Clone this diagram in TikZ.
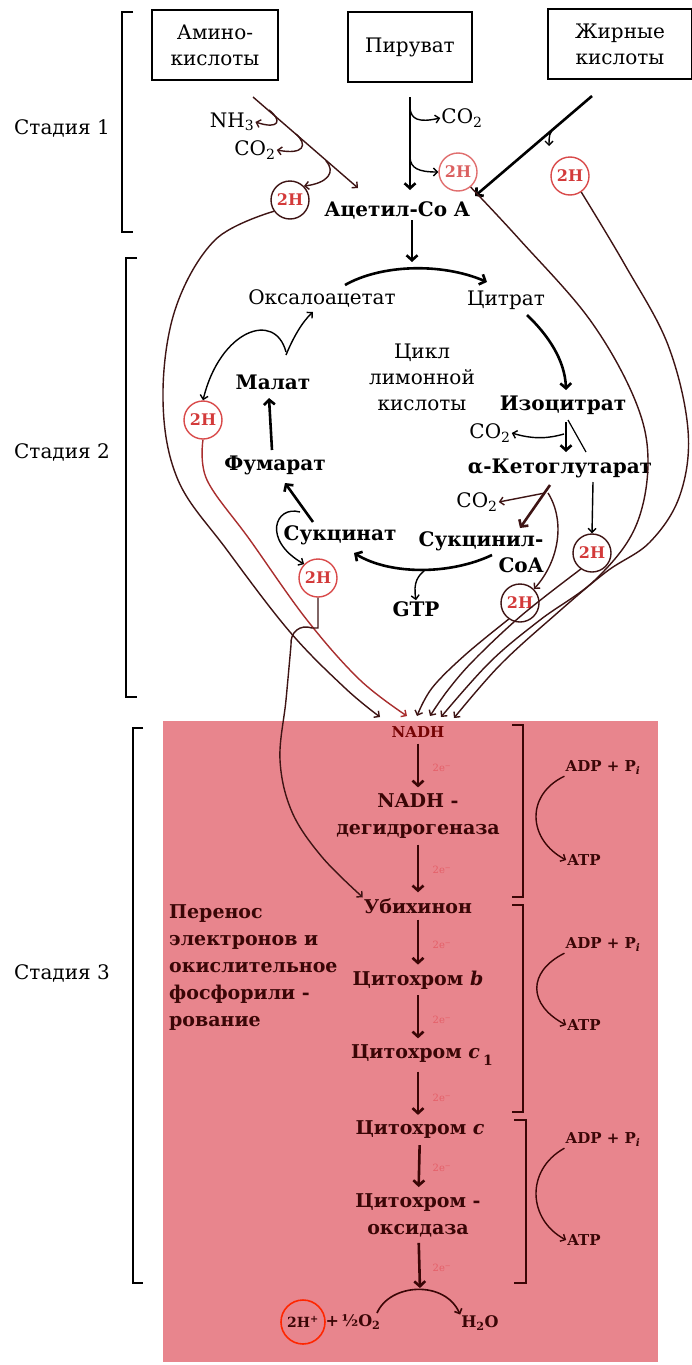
\documentclass[tikz,border=0pt]{standalone}
\usepackage{fontspec}
\setmainfont{DejaVu Serif}
\usetikzlibrary{arrows.meta}
\definecolor{dkm}{HTML}{3E1414}
\definecolor{redH}{HTML}{D33A3A}
\definecolor{redC}{HTML}{D94A4A}
\definecolor{pinkbg}{HTML}{E8858D}
\definecolor{sthree}{HTML}{3A0606}
\definecolor{twoe}{HTML}{E0303A}
\begin{document}
\begin{tikzpicture}[x=1pt,y=-1pt,
  tx/.style={font=\fontsize{20}{26}\selectfont, inner sep=1pt, align=center},
  txb/.style={font=\fontsize{20}{26}\selectfont\bfseries, inner sep=1pt, align=center},
  bx/.style={tx, draw, line width=1.2pt, minimum height=70pt},
  hh/.style={circle, draw=#1, line width=1.4pt, minimum size=38pt, inner sep=0pt, text=redH, font=\fontsize{16}{16}\selectfont\bfseries},
  thk/.style={line width=2.6pt, -{Straight Barb[length=5pt,width=11pt]}},
  thn/.style={line width=1.4pt, -{Straight Barb[length=4pt,width=8pt]}},
  brk/.style={line width=1.3pt},
  sfont/.style={font=\fontsize{19}{27}\selectfont\bfseries, text=sthree, inner sep=1pt, align=center},
  sarr/.style={line width=2.6pt, draw=sthree, -{Straight Barb[length=5pt,width=11pt]}, shorten <=5pt, shorten >=5pt},
  twoelbl/.style={font=\fontsize{10}{10}\selectfont, text=twoe, opacity=0.45},
  adp/.style={font=\fontsize{15}{16}\selectfont\bfseries, text=sthree, inner sep=1pt}
]
\useasboundingbox (0,0) rectangle (692,1365);
\fill[white] (0,0) rectangle (692,1365);
\fill[pinkbg] (163,721) rectangle (658,1362);

% ---------- stage labels and brackets
\node[tx] (st1) at (62,128) {Стадия 1};
\node[tx] (st2) at (62,452) {Стадия 2};
\node[tx] (st3) at (62,973) {Стадия 3};
\draw[brk] (133,12) -- (122,12) -- (122,232) -- (133,232);
\draw[brk] (137,258) -- (126,258) -- (126,697) -- (137,697);
\draw[brk] (143,728) -- (133,728) -- (133,1283) -- (143,1283);

% ---------- stage 1
\node[bx, minimum width=126pt] (amino) at (215,45) {Амино-\\кислоты};
\node[bx, minimum width=124pt] (pyr) at (410,47) {Пируват};
\node[bx, minimum width=144pt] (fatty) at (620,44) {Жирные\\кислоты};

\node[tx] (nh3) at (232,122) {NH\textsubscript{3}};
\node[tx] (co2a) at (255,150) {CO\textsubscript{2}};
\node[hh=dkm] (h1) at (290,200) {2H};
\node[txb] (acoa) at (397,210) {Ацетил-Co A};
\node[tx] (co2b) at (462,118) {CO\textsubscript{2}};
\node[hh=redC, opacity=0.8] (hpyr) at (458,172) {2H};
\node[hh=redC] (hfat) at (570,176) {2H};

\coordinate (aS) at (253,97);
\coordinate (aE) at (358,188);
\draw[thn,dkm] (aS) -- (aE);
\draw[thn,dkm] (269,110) .. controls (282,120) and (280,130) .. (nh3.east);
\draw[thn,dkm] (296,134) .. controls (308,145) and (304,155) .. (co2a.east);
\draw[thn,dkm] (326,161) .. controls (336,172) and (328,183) .. (h1.north east);

\coordinate (pS) at (410,97);
\coordinate (pE) at (410,190);
\draw[thk] (pS) -- (pE);
\draw[thn] (410,108) .. controls (411,119) and (418,123) .. (co2b.west);
\draw[thn] (410,158) .. controls (411,168) and (418,172) .. (hpyr.west);

\coordinate (fS) at (592,96);
\coordinate (fE) at (475,196);
\draw[thk] (fS) -- (fE);
\draw[thn] (556,127) .. controls (549,131) and (549,137) .. (549,146);

% ---------- stage 2 : citric acid cycle
\node[tx] (oxa) at (322,298) {Оксалоацетат};
\node[tx] (cit) at (506,300) {Цитрат};
\node[tx] (cyc) at (422,377) {Цикл\\лимонной\\кислоты};
\node[txb] (iso) at (563,405) {Изоцитрат};
\node[tx] (co2c) at (490,433) {CO\textsubscript{2}};
\node[txb] (akg) at (560,468) {α-Кетоглутарат};
\node[tx] (co2d) at (477,502) {CO\textsubscript{2}};
\node[txb, align=right] (scoa) at (481,552) {Сукцинил-\\CoA};
\node[txb] (gtp) at (416,609) {GTP};
\node[txb] (suc) at (340,535) {Сукцинат};
\node[txb] (fum) at (275,465) {Фумарат};
\node[txb] (mal) at (273,382) {Малат};
\node[hh=redC] (hmal) at (203,420) {2H};
\node[hh=redC] (hsuc) at (318,578) {2H};
\node[hh=dkm] (hR) at (592,553) {2H};
\node[hh=dkm] (hL) at (520,603) {2H};

\draw[thk] (acoa.south -| 412,0) -- (412,262);
\draw[thk] (345,285) .. controls (380,265) and (440,262) .. (487,282);
\draw[thk] (527,315) .. controls (548,335) and (565,360) .. (566,390);
\draw[thk] (566,422) -- (566,452);
\draw[line width=1.2pt] (568,420) -- (586,452);
\draw[thn] (564,434) .. controls (550,438) and (535,440) .. (co2c.east);
\draw[thn] (593,482) -- (hR.north);
\draw[thk,dkm] (550,485) -- (520,528);
\draw[thn,dkm] (545,493) -- (co2d.east);
\draw[thn,dkm] (548,493) .. controls (565,520) and (560,560) .. (hL.north east);
\draw[thk] (492,555) .. controls (450,575) and (390,575) .. (354,553);
\draw[thn] (425,570) .. controls (418,576) and (413,582) .. (gtp.north);
\draw[thk] (313,522) -- (285,483);
\draw[thn] (300,512) .. controls (275,505) and (262,540) .. (hsuc.north west);
\draw[thk] (272,450) -- (269,398);
\draw[thn] (286,355) .. controls (293,338) and (302,322) .. (313,312);
\draw[thn] (286,352) .. controls (275,310) and (220,330) .. (hmal.north);

% ---------- connectors to NADH
\coordinate (t1) at (380,717);
\coordinate (t2) at (407,716);
\coordinate (t3) at (417,716);
\coordinate (t4) at (430,716);
\coordinate (t5) at (441,717);
\coordinate (t6) at (454,718);
\draw[thn,dkm] plot[smooth,tension=0.6] coordinates {(h1.215) (215,240) (175,310) (163,400) (178,480) (227,550) (290,632) (345,688) (t1)};
\draw[thn,draw=redH!80!black] plot[smooth,tension=0.6] coordinates {(hmal.south) (207,480) (250,540) (307,620) (360,680) (t2)};
\draw[thn,dkm] plot[smooth,tension=0.6] coordinates {(hL.235) (465,655) (432,688) (t3)};
\draw[thn,dkm] plot[smooth,tension=0.6] coordinates {(hR.235) (522,615) (474,660) (448,690) (t4)};
\draw[thn,dkm] plot[smooth,tension=0.6] coordinates {(hpyr.-50) (520,240) (590,320) (635,400) (648,462) (635,528) (595,580) (540,620) (490,662) (t5)};
\draw[thn,dkm] plot[smooth,tension=0.6] coordinates {(hfat.-55) (625,265) (668,345) (688,430) (680,495) (650,542) (606,572) (555,615) (500,665) (t6)};

% ---------- stage 3
\node[sfont, font=\fontsize{15}{16}\selectfont\bfseries, text=sthree!70!red] (nadh) at (418,732) {NADH};
\node[sfont] (ndh) at (418,816) {NADH -\\дегидрогеназа};
\node[sfont] (ubi) at (418,906) {Убихинон};
\node[sfont] (cytb) at (418,980) {Цитохром \textit{b}};
\node[sfont] (cytcone) at (422,1055) {Цитохром \textit{c}\,\raisebox{-7pt}{\fontsize{14}{14}\selectfont 1}};
\node[sfont] (cytc) at (420,1130) {Цитохром \textit{c}};
\node[sfont] (cox) at (418,1215) {Цитохром -\\оксидаза};
\node[sfont, align=left, anchor=north west] (etr) at (168,903) {Перенос\\электронов и\\окислительное\\фосфорили -\\рование};

\draw[sarr] (nadh) -- (ndh);
\draw[sarr] (ndh) -- (ubi);
\draw[sarr] (ubi) -- (cytb);
\draw[sarr] (cytb) -- (cytcone.north -| cytb.south);
\draw[sarr] (cytcone.south -| cytb.south) -- (cytc.north -| cytb.south);
\draw[sarr] (cytc) -- (cox);
\coordinate (arcTop) at (420,1290);
\draw[sarr, shorten >=2pt] (cox) -- (arcTop);

\node[twoelbl] (e1) at (442,768) {2e\textsuperscript{−}};
\node[twoelbl] (e2) at (442,870) {2e\textsuperscript{−}};
\node[twoelbl] (e3) at (442,945) {2e\textsuperscript{−}};
\node[twoelbl] (e4) at (442,1020) {2e\textsuperscript{−}};
\node[twoelbl] (e5) at (442,1098) {2e\textsuperscript{−}};
\node[twoelbl] (e6) at (442,1168) {2e\textsuperscript{−}};
\node[twoelbl] (e7) at (442,1268) {2e\textsuperscript{−}};

\node[circle, draw=red!70!orange, line width=1.6pt, minimum size=44pt, inner sep=0pt, font=\fontsize{14}{14}\selectfont\bfseries, text=sthree] (hp) at (303,1322) {2H\textsuperscript{+}};
\node[adp, font=\fontsize{16}{16}\selectfont\bfseries] (o2) at (353,1322) {+\,½O\textsubscript{2}};
\node[adp, font=\fontsize{16}{16}\selectfont\bfseries] (h2o) at (480,1323) {H\textsubscript{2}O};
\draw[line width=1.6pt, sthree, -{Straight Barb[length=4pt,width=8pt]}] (377,1313) .. controls (390,1283) and (445,1280) .. (h2o.north west);

% brackets and ATP
\draw[brk, sthree] (512,725) -- (523,725) -- (523,897) -- (512,897);
\draw[brk, sthree] (512,905) -- (523,905) -- (523,1112) -- (512,1112);
\draw[brk, sthree] (514,1120) -- (526,1120) -- (526,1283) -- (514,1283);

\node[adp] (adp1) at (603,768) {ADP + P\textsubscript{\textit{i}}};
\node[adp] (atp1) at (584,860) {ATP};
\node[adp] (adp2) at (603,945) {ADP + P\textsubscript{\textit{i}}};
\node[adp] (atp2) at (584,1025) {ATP};
\node[adp] (adp3) at (603,1140) {ADP + P\textsubscript{\textit{i}}};
\node[adp] (atp3) at (584,1240) {ATP};
\draw[thn, sthree] (adp1.south west) .. controls (525,795) and (528,840) .. (atp1.west);
\draw[thn, sthree] (adp2.south west) .. controls (527,972) and (528,1005) .. (atp2.west);
\draw[thn, sthree] (adp3.south west) .. controls (525,1170) and (528,1220) .. (atp3.west);

% succinate 2H to ubiquinone with bridge
\draw[thn,dkm] (hsuc.south) -- (318,628) -- (312,628) .. controls (300,624) and (290,632) .. (291,645)
   plot[smooth,tension=0.6] coordinates {(291,645) (286,700) (280,760) (292,812) (322,857) (ubi.north west)};
\end{tikzpicture}
\end{document}
